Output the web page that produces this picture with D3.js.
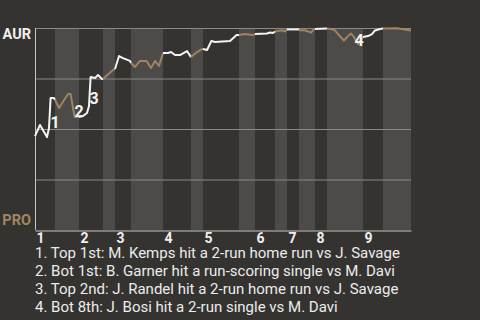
<!DOCTYPE html>
<html>
<head>
<meta charset="utf-8">
<script src="https://cdn.jsdelivr.net/npm/d3@7"></script>
<style>
  html, body { margin: 0; padding: 0; background: #353330; }
  svg { display: block; font-family: Roboto, "Noto Sans", sans-serif; }
</style>
</head>
<body>
<svg class="wp" width="480" height="320"></svg>
<script>
// half-inning boundaries, in plays (top 1st starts at 0)
var halfStarts = [0, 5, 11, 17, 20, 24, 32, 39, 42, 51, 55, 60, 63, 66, 70, 73, 82, 87, 94];
var innings = ["1", "2", "3", "4", "5", "6", "7", "8", "9"];
var teams = ["AUR", "PRO"];

// AUR win probability (%) after each play
var wpPlay = [0, 1.25, 3.0, 3.5, 3.9, 4.75, 5, 6, 8.25, 8.9, 9.9, 11,
  12, 13, 13.5, 13.9, 15, 15.75, 16.75, 17, 19.5, 20,
  21, 22, 23.75, 24, 25, 26.25, 27.9, 29, 30, 31, 32,
  33.25, 34, 35, 36.25, 38, 39, 40.5, 41.75, 42,
  43, 43.25, 44.1, 45, 48.75, 50.4, 51, 52.5, 54.5, 55,
  58, 58.75, 59.5, 60, 61.75, 62.5, 63, 66, 66.25, 67.5, 69, 69.5, 70, 73,
  74.25, 75, 75.75, 76.75, 77.25, 78, 79, 79.75, 80.75, 81.5, 82,
  83.25, 84.25, 85, 86.25, 87, 90.5, 92, 94];
var wpValue = [46.5, 52.0, 46.0, 50.5, 65.3, 65.3, 64.5, 60.4, 67.3, 67.3, 55.9, 55.9,
  56.4, 57.9, 61.4, 75.7, 75.2, 76.7, 74.8, 74.8, 79.2, 79.7,
  86.1, 85.1, 83.7, 82.7, 80.7, 83.7, 83.7, 80.2, 83.7, 81.2, 87.6,
  87.6, 88.1, 86.6, 86.6, 88.6, 85.6, 88.1, 89.6, 89.6,
  89.1, 90.1, 93.6, 93.1, 93.6, 96.5, 96.5, 97.0, 96.5, 97.0,
  97.3, 97.8, 97.5, 98.3, 98.9, 98.3, 99.3, 99.3, 98.9, 98.9, 97.7, 98.9, 99.5, 99.7,
  99.4, 98.8, 97.0, 94.8, 93.8, 95.5, 97.3, 95.5, 92.1, 94.1, 95.5,
  96.0, 97.0, 98.8, 99.5, 99.75, 99.9, 99.4, 98.8];

// key plays: where the marker sits
var keyPlay = [5, 11, 14.75, 81];
var keyValue = [53.5, 58.9, 65.3, 94.1];
var keyNotes = [
  "1. Top 1st: M. Kemps hit a 2-run home run vs J. Savage",
  "2. Bot 1st: B. Garner hit a run-scoring single vs M. Davi",
  "3. Top 2nd: J. Randel hit a 2-run home run vs J. Savage",
  "4. Bot 8th: J. Bosi hit a 2-run single vs M. Davi"
];

var svg = d3.select(".wp");

var x = d3.scaleLinear()
    .domain([0, 94])
    .range([35, 411]);

var y = d3.scaleLinear()
    .domain([0, 100])
    .range([230, 28]);

var points = wpPlay.map(function(d, i) { return [d, wpValue[i]]; });

// bottom halves get the lighter band
svg.append("g")
  .selectAll("rect")
  .data(d3.range(1, halfStarts.length - 1, 2))
  .enter().append("rect")
    .attr("x", function(i) { return x(halfStarts[i]); })
    .attr("width", function(i) { return x(halfStarts[i + 1]) - x(halfStarts[i]); })
    .attr("y", y(100))
    .attr("height", y(0) - y(100))
    .attr("fill", "#4d4b49");

svg.append("g")
  .selectAll("line")
  .data([25, 50, 75, 100])
  .enter().append("line")
    .attr("x1", x(0))
    .attr("x2", x(94))
    .attr("y1", function(d) { return y(d) + 0.5; })
    .attr("y2", function(d) { return y(d) + 0.5; })
    .attr("stroke", "#8b8987")
    .attr("stroke-width", 1);

svg.append("line")
    .attr("x1", x(0) + 0.5)
    .attr("x2", x(0) + 0.5)
    .attr("y1", y(100))
    .attr("y2", y(0))
    .attr("stroke", "#c8c6c4");

svg.append("g")
    .attr("transform", "translate(0," + (y(0) + 0.5) + ")")
    .call(d3.axisBottom(x)
      .tickValues(halfStarts.filter(function(d, i) { return i % 2 == 0 && i < 18; }))
      .tickSize(0)
      .tickFormat(function(d, i) { return innings[i]; }))
    .call(function(g) {
      g.select(".domain").attr("stroke", "#c8c6c4");
      g.selectAll("text")
        .attr("text-anchor", "start")
        .attr("dx", 1)
        .attr("y", 12)
        .attr("dy", 0)
        .attr("font-family", "Roboto, sans-serif")
        .attr("font-size", 14)
        .attr("font-weight", "bold")
        .attr("fill", "#f0f0f0");
    });

svg.selectAll(".team")
  .data(teams)
  .enter().append("text")
    .attr("class", "team")
    .attr("x", 31)
    .attr("y", function(d, i) { return i ? y(0) - 5 : y(100) + 11; })
    .attr("text-anchor", "end")
    .attr("font-size", 14.5)
    .attr("font-weight", "bold")
    .attr("fill", function(d, i) { return i ? "#a08760" : "#f0f0f0"; })
    .text(function(d) { return d; });

var line = d3.line()
    .x(function(d) { return x(d[0]); })
    .y(function(d) { return y(d[1]); });

svg.append("g")
  .selectAll("path")
  .data(d3.range(halfStarts.length - 1))
  .enter().append("path")
    .attr("d", function(i) {
      return line(points.filter(function(p) {
        return p[0] >= halfStarts[i] && p[0] <= halfStarts[i + 1];
      }));
    })
    .attr("fill", "none")
    .attr("stroke", function(i) { return i % 2 ? "#9f855f" : "#f4f4f4"; })
    .attr("stroke-width", 2)
    .attr("stroke-linejoin", "round");

svg.append("g")
  .selectAll("text")
  .data(keyPlay)
  .enter().append("text")
    .attr("x", function(d) { return x(d); })
    .attr("y", function(d, i) { return y(keyValue[i]); })
    .attr("dy", "0.36em")
    .attr("text-anchor", "middle")
    .attr("font-size", 16)
    .attr("font-weight", "bold")
    .attr("fill", "#f4f4f4")
    .text(function(d, i) { return i + 1; });

svg.append("g")
  .selectAll("text")
  .data(keyNotes)
  .enter().append("text")
    .attr("x", 35)
    .attr("y", function(d, i) { return 258 + i * 18; })
    .attr("font-size", 15)
    .attr("fill", "#ececec")
    .text(function(d) { return d; });
</script>
</body>
</html>
